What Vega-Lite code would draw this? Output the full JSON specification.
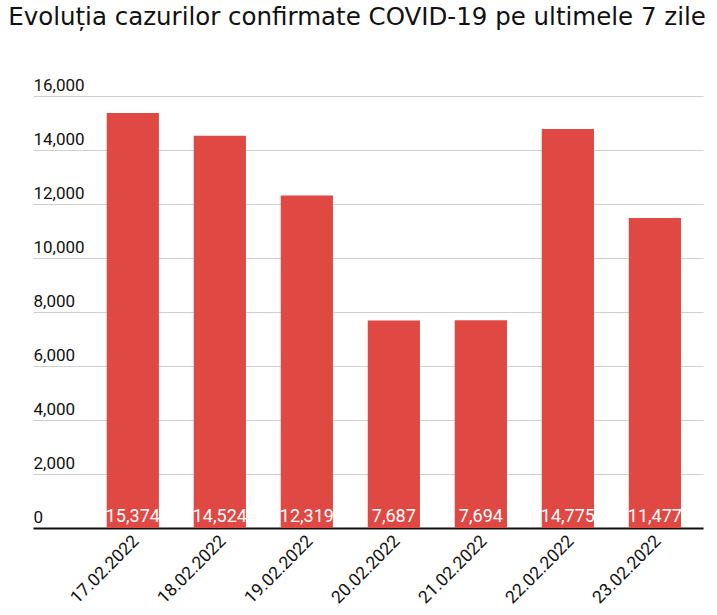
{
  "$schema": "https://vega.github.io/schema/vega-lite/v6.json",
  "width": 670,
  "height": 432,
  "autosize": {"type": "none"},
  "padding": {"left": 33, "top": 96, "right": 14, "bottom": 87},
  "background": "white",
  "title": {
    "text": "Evoluția cazurilor confirmate COVID-19 pe ultimele 7 zile",
    "font": "DejaVu Sans",
    "fontSize": 24.5,
    "fontWeight": "normal",
    "color": "#111111",
    "anchor": "middle",
    "frame": "group",
    "dx": -11,
    "baseline": "alphabetic",
    "offset": 27
  },
  "config": {
    "view": {"stroke": null},
    "font": "Roboto"
  },
  "data": {
    "values": [
      {"date": "17.02.2022", "cases": 15374},
      {"date": "18.02.2022", "cases": 14524},
      {"date": "19.02.2022", "cases": 12319},
      {"date": "20.02.2022", "cases": 7687},
      {"date": "21.02.2022", "cases": 7694},
      {"date": "22.02.2022", "cases": 14775},
      {"date": "23.02.2022", "cases": 11477}
    ]
  },
  "encoding": {
    "x": {
      "field": "date",
      "type": "ordinal",
      "sort": null,
      "scale": {"paddingInner": 0.4, "paddingOuter": 0.55, "align": 0.77},
      "axis": {
        "title": null,
        "labelAngle": -45,
        "labelAlign": "right",
        "labelBaseline": "top",
        "labelOffset": -3,
        "labelPadding": 4,
        "labelFontSize": 17.5,
        "labelColor": "#111111",
        "ticks": false,
        "domainColor": "#111111",
        "domainWidth": 2
      }
    }
  },
  "layer": [
    {
      "mark": {"type": "bar", "color": "#e04843"},
      "encoding": {
        "y": {
          "field": "cases",
          "type": "quantitative",
          "scale": {"domain": [0, 16000], "nice": false},
          "axis": {
            "title": null,
            "values": [0, 2000, 4000, 6000, 8000, 10000, 12000, 14000, 16000],
            "format": ",d",
            "domain": false,
            "ticks": false,
            "tickSize": 0,
            "labelAlign": "left",
            "labelBaseline": "alphabetic",
            "labelPadding": 0,
            "labelOffset": -6,
            "labelFontSize": 17,
            "labelColor": "#111111",
            "gridColor": "#d0d0d0",
            "gridWidth": 1
          }
        }
      }
    },
    {
      "mark": {"type": "text", "color": "white", "fontSize": 18, "baseline": "alphabetic", "dy": -6},
      "encoding": {
        "y": {"datum": 0, "type": "quantitative"},
        "text": {"field": "cases", "type": "quantitative", "format": ","}
      }
    }
  ]
}
